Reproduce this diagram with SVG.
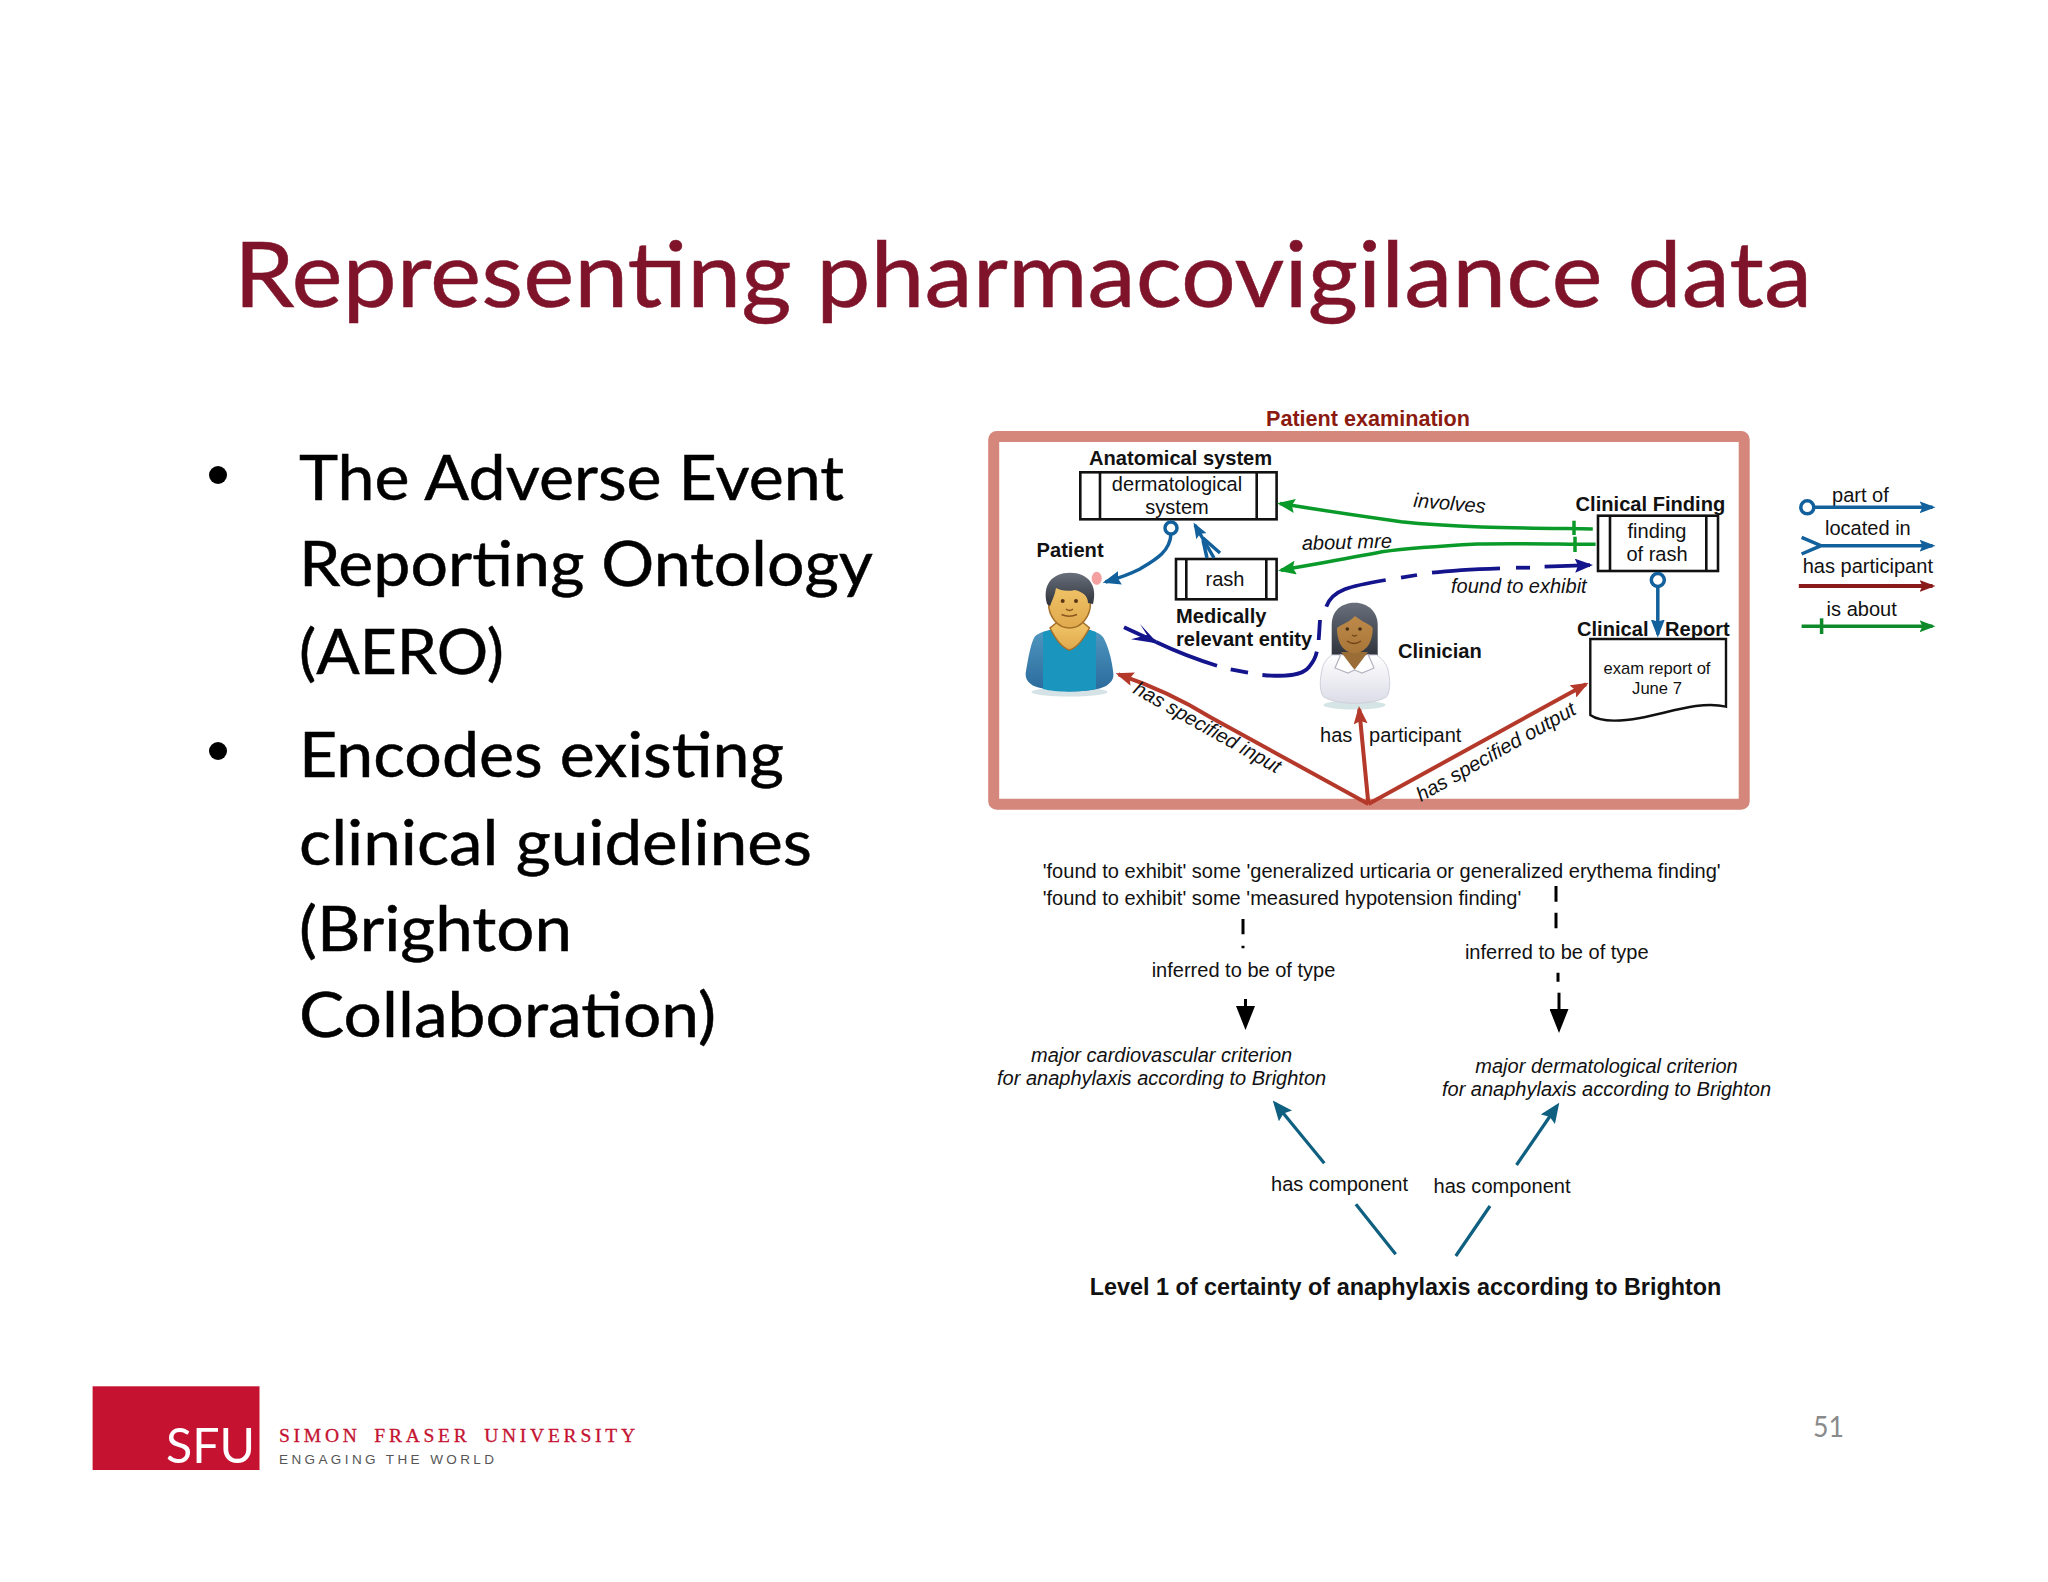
<svg xmlns="http://www.w3.org/2000/svg" width="2048" height="1582" viewBox="0 0 2048 1582">
<style>
text{font-family:"Liberation Sans",Arial,sans-serif;fill:#111}
.t20{font-size:20.05px}
.b{font-size:20.1px;font-weight:bold}
.i{font-size:20px;font-style:italic}
.m{text-anchor:middle}
.slide{font-family:Lato,"Open Sans",sans-serif;font-size:62px;fill:#000;stroke:#000;stroke-width:.5}
.box{fill:#fff;stroke:#111;stroke-width:2.6}
.sep{stroke:#111;stroke-width:2.6;fill:none}
.c{fill:none;stroke-linecap:butt}
.green{stroke:#0a9a2a;stroke-width:3.5}
.navy{stroke:#14148c;stroke-width:3.8}
.blue{stroke:#12609c;stroke-width:3.5}
.red{stroke:#b5392a;stroke-width:4}
.dred{stroke:#8b1a1a;stroke-width:4}
.dgreen{stroke:#0f8a2a;stroke-width:3.5}
.black{stroke:#000;stroke-width:3}
.teal{stroke:#0e5f80;stroke-width:3.2}
</style>
<defs>
<marker id="mGreen" markerUnits="userSpaceOnUse" markerWidth="18" markerHeight="14" viewBox="0 0 18 14" refX="15" refY="7" orient="auto"><path d="M0 0L18 7L0 14L3 7Z" fill="#0a9a2a"/></marker>
<marker id="mDGreen" markerUnits="userSpaceOnUse" markerWidth="16" markerHeight="12" viewBox="0 0 16 12" refX="13" refY="6" orient="auto"><path d="M0 0L16 6L0 12L3 6Z" fill="#0f8a2a"/></marker>
<marker id="mNavy" markerUnits="userSpaceOnUse" markerWidth="18" markerHeight="14" viewBox="0 0 18 14" refX="15" refY="7" orient="auto"><path d="M0 0L18 7L0 14L3 7Z" fill="#14148c"/></marker>
<marker id="mBlue" markerUnits="userSpaceOnUse" markerWidth="16" markerHeight="12" viewBox="0 0 16 12" refX="13" refY="6" orient="auto"><path d="M0 0L16 6L0 12L3 6Z" fill="#12609c"/></marker>
<marker id="mBlueBig" markerUnits="userSpaceOnUse" markerWidth="18" markerHeight="14" viewBox="0 0 18 14" refX="15" refY="7" orient="auto"><path d="M0 0L18 7L0 14L2 7Z" fill="#12609c"/></marker>
<marker id="mRed" markerUnits="userSpaceOnUse" markerWidth="18" markerHeight="14" viewBox="0 0 18 14" refX="15" refY="7" orient="auto"><path d="M0 0L18 7L0 14L3 7Z" fill="#b5392a"/></marker>
<marker id="mDRed" markerUnits="userSpaceOnUse" markerWidth="16" markerHeight="12" viewBox="0 0 16 12" refX="13" refY="6" orient="auto"><path d="M0 0L16 6L0 12L3 6Z" fill="#8b1a1a"/></marker>
<marker id="mBlack" markerUnits="userSpaceOnUse" markerWidth="24" markerHeight="19" viewBox="0 0 24 19" refX="3" refY="9.5" orient="auto"><path d="M0 0L24 9.5L0 19Z" fill="#000"/></marker>
<marker id="mTeal" markerUnits="userSpaceOnUse" markerWidth="20" markerHeight="17" viewBox="0 0 20 17" refX="16" refY="8.5" orient="auto"><path d="M0 0L20 8.5L0 17L3 8.5Z" fill="#0e5f80"/></marker>
<linearGradient id="hair" x1="0" y1="0" x2="0" y2="1"><stop offset="0" stop-color="#69707c"/><stop offset="1" stop-color="#2e323a"/></linearGradient>
<linearGradient id="skin" x1="0" y1="0" x2="0" y2="1"><stop offset="0" stop-color="#f3c86c"/><stop offset="1" stop-color="#dfa94c"/></linearGradient>
<linearGradient id="skin2" x1="0" y1="0" x2="0" y2="1"><stop offset="0" stop-color="#bd8a4a"/><stop offset="1" stop-color="#a87638"/></linearGradient>
<linearGradient id="sleeve" x1="0" y1="0" x2="0" y2="1"><stop offset="0" stop-color="#4f97c0"/><stop offset="1" stop-color="#2a6a9c"/></linearGradient>
<linearGradient id="coat" x1="0" y1="0" x2="0" y2="1"><stop offset="0" stop-color="#ffffff"/><stop offset="1" stop-color="#dcdce8"/></linearGradient>
</defs>
<rect width="2048" height="1582" fill="#fff"/>
<g id="slide-title"><text x="234" y="306.7" textLength="1578" lengthAdjust="spacingAndGlyphs" style="font-family:Lato,'Open Sans',sans-serif;font-size:91px;fill:#7e1329;stroke:#7e1329;stroke-width:.5">Representing pharmacovigilance data</text></g>
<g id="bullets">
<circle cx="218" cy="475" r="9" fill="#000"/>
<circle cx="218" cy="751" r="9" fill="#000"/>
<text class="slide" x="299" y="500" textLength="545" lengthAdjust="spacingAndGlyphs">The Adverse Event</text>
<text class="slide" x="299" y="585.5" textLength="574" lengthAdjust="spacingAndGlyphs">Reporting Ontology</text>
<text class="slide" x="299" y="674" textLength="205" lengthAdjust="spacingAndGlyphs">(AERO)</text>
<text class="slide" x="299" y="777" textLength="485" lengthAdjust="spacingAndGlyphs">Encodes existing</text>
<text class="slide" x="299" y="865" textLength="513" lengthAdjust="spacingAndGlyphs">clinical guidelines</text>
<text class="slide" x="299" y="951" textLength="273" lengthAdjust="spacingAndGlyphs">(Brighton</text>
<text class="slide" x="299" y="1037" textLength="417" lengthAdjust="spacingAndGlyphs">Collaboration)</text>
</g>
<g id="frame">
<rect x="993.7" y="436.5" width="750.5" height="367.8" rx="3" fill="#fff" stroke="#d6877b" stroke-width="11"/>
<text x="1266" y="426" style="font-size:21.6px;font-weight:bold;fill:#8b1a10">Patient examination</text>
</g>
<g id="anatomical-system">
<text class="b" x="1089" y="465">Anatomical system</text>
<rect class="box" x="1080.3" y="472.3" width="196.3" height="47"/>
<path class="sep" d="M1100 472.3V519.3M1256.7 472.3V519.3"/>
<text class="t20 m" x="1177" y="490.5">dermatological</text>
<text class="t20 m" x="1177" y="513.5">system</text>
</g>
<g id="rash">
<rect class="box" x="1176" y="559" width="100.6" height="40.3"/>
<path class="sep" d="M1186.3 559V599.3M1266.3 559V599.3"/>
<text class="t20 m" x="1225" y="586">rash</text>
<text class="b" x="1176" y="622.7">Medically</text>
<text class="b" x="1176" y="646">relevant entity</text>
</g>
<g id="patient">
<text class="b" x="1036.6" y="557.2">Patient</text>
<ellipse cx="1069.5" cy="692" rx="38" ry="4.5" fill="#d5e2e6"/>
<path d="M1050 630C1042 632 1036 634 1034 638C1030 646 1028 660 1025.7 673C1025 680 1030 684 1034 686C1050 692 1090 694 1106 686C1112 682 1114 678 1113.3 673C1112 660 1108 645 1103 637C1100 633 1095 632 1090 630Z" fill="url(#sleeve)"/>
<path d="M1050 630H1090L1096 632V689C1080 692.5 1056 692.5 1043 689V632Z" fill="#1a95bd"/>
<path d="M1050 628C1056 640 1062 648 1069.5 650C1077 648 1083 640 1089.5 628L1080 620H1060Z" fill="url(#skin)" stroke="#a4702a" stroke-width="1.5"/>
<ellipse cx="1069.5" cy="603" rx="21" ry="25" fill="url(#skin)" stroke="#a4702a" stroke-width="1.5"/>
<path d="M1047 604C1042 585 1052 572.7 1070 572.7C1088 572.7 1098 585 1093 604L1088 603C1088 595 1082 592 1075 590C1066 592 1060 590 1056 588C1055 595 1052 600 1050 606Z" fill="url(#hair)"/>
<circle cx="1062.7" cy="601" r="2" fill="#5a3518"/><circle cx="1076" cy="601" r="2" fill="#5a3518"/>
<path d="M1066 609Q1069.5 612 1073 609M1061.5 614.5Q1069 618 1077 614.5" fill="none" stroke="#8a5520" stroke-width="1.4"/>
<ellipse cx="1096.7" cy="578.3" rx="5" ry="6.5" fill="#f4a0a0"/>
</g>
<g id="clinician">
<text class="b" x="1398" y="658">Clinician</text>
<ellipse cx="1354.5" cy="705" rx="31" ry="4.5" fill="#d5e4e4"/>
<path d="M1331.7 657V625C1331.7 610 1342 602.7 1355 602.7C1368 602.7 1377.7 612 1377.7 625V657Z" fill="url(#hair)"/>
<path d="M1331.7 655C1326 659 1323 664 1322 670C1320 678 1319 690 1323.3 696.7C1332 702 1345 703.3 1355 703.3C1365 703.3 1378 702 1386.7 696.7C1391 690 1390 678 1388 670C1387 664 1382 659 1376.7 655Z" fill="url(#coat)" stroke="#d0d0dc" stroke-width="1"/>
<path d="M1341 652L1354.5 670L1368 652Z" fill="#9a6c36"/>
<path d="M1341 654L1335 668L1348 673L1354.5 670M1368 654L1374 668L1362 673L1354.5 670" fill="#fff" stroke="#b4b4c0" stroke-width="1.2"/>
<path d="M1337 628C1337 645 1345 653 1354.5 653C1364 653 1372.7 645 1372.7 628C1370 624 1362 622 1355 616C1350 622 1342 624 1337 628Z" fill="url(#skin2)"/>
<circle cx="1347.3" cy="629" r="1.8" fill="#4a2c12"/><circle cx="1360" cy="629" r="1.8" fill="#4a2c12"/>
<path d="M1352 635Q1354.5 637 1357 635M1347 641Q1354 646 1361 641" fill="none" stroke="#6e4418" stroke-width="1.3"/>
</g>
<g id="clinical-finding">
<text class="b" x="1575.6" y="510.5">Clinical Finding</text>
<rect class="box" x="1598" y="515.7" width="120" height="55.3"/>
<path class="sep" d="M1610 515.7V571M1706.3 515.7V571"/>
<text class="t20 m" x="1657" y="537.5">finding</text>
<text class="t20 m" x="1657" y="561">of rash</text>
</g>
<g id="clinical-report">
<text class="b" x="1577" y="636">Clinical<tspan x="1665">Report</tspan></text>
<path d="M1590.3 639H1726V706.7C1700 700 1665 714 1640 718C1620 721.5 1600 722 1590.3 715Z" fill="#fff" stroke="#111" stroke-width="2.4"/>
<text class="m" x="1657" y="673.5" style="font-size:16.6px">exam report of</text>
<text class="m" x="1657" y="693.5" style="font-size:16.6px">June 7</text>
</g>
<g id="connectors">
<path class="c green" marker-end="url(#mGreen)" d="M1592.8 529C1530 528 1460 528 1401 521.7C1360 516 1320 510 1280 503.6"/>
<path class="c green" d="M1574 520.7V535"/>
<path class="c green" marker-end="url(#mGreen)" d="M1595.6 544.3C1550 544 1510 543 1477.5 544C1440 546 1410 548 1382 551.7C1350 558 1315 564 1281 570.2"/>
<path class="c green" d="M1575 536.7V552"/>
<g class="c navy">
<path d="M1124 627.3L1156 642"/>
<path d="M1156 642C1175 651 1195 659 1217 665.7"/>
<path d="M1230.7 669.3L1248 672.7"/>
<path d="M1262.4 675C1285 677 1302 676 1309 667C1315 660 1316 656 1316.8 651.7"/>
<path d="M1318.7 640L1320 620"/>
<path d="M1326.3 606.7C1332 590 1350 586 1385.7 580"/>
<path d="M1401 577.7L1417 575"/>
<path d="M1432 572.7C1455 570 1480 569 1500 568.3"/>
<path d="M1516 567.7H1530"/>
<path marker-end="url(#mNavy)" d="M1544.6 566.7L1590 565.2"/>
</g>
<path d="M1140 624L1147 635L1131 639.3L1158 643.5Z" fill="#14148c"/>
<circle cx="1171" cy="528" r="6" fill="#fff" stroke="#12609c" stroke-width="3.5"/>
<path class="c blue" marker-end="url(#mBlueBig)" d="M1171 534C1170 552 1155 560 1140 569C1128 575 1116 579 1105.5 582"/>
<path class="c blue" marker-end="url(#mBlue)" d="M1214 558L1195 525"/>
<path class="c blue" d="M1207 558L1203 540M1220 553L1203 538"/>
<circle cx="1657.8" cy="580" r="6.5" fill="#fff" stroke="#12609c" stroke-width="3.5"/>
<path class="c blue" marker-end="url(#mBlueBig)" d="M1657.8 586.5V634.5"/>
<path class="c red" marker-end="url(#mRed)" d="M1368.4 804L1210 717C1178 697 1150 685 1118.5 674.3"/>
<path class="c red" marker-end="url(#mRed)" d="M1368.4 804L1359.2 709"/>
<path class="c red" marker-end="url(#mRed)" d="M1368.4 804L1586 684.2"/>
<path class="c black" d="M1556 886V901.7M1556 912.7V928.3M1558 972.7V981.7"/>
<path class="c black" marker-end="url(#mBlack)" d="M1559 992.7V1012"/>
<path class="c black" d="M1243 919V934.3M1243 945.7V948.3"/>
<path class="c black" marker-end="url(#mBlack)" d="M1245.5 999V1009"/>
<path class="c teal" marker-end="url(#mTeal)" d="M1324.3 1163.3L1275.3 1103.5"/>
<path class="c teal" marker-end="url(#mTeal)" d="M1516.5 1165L1557 1106"/>
<path class="c teal" d="M1355.9 1204.3L1395.7 1254.3M1490 1206L1455.8 1256"/>
</g>
<g id="edge-labels">
<text class="i m" transform="translate(1449 510) rotate(5)">involves</text>
<text class="i" transform="translate(1302 550) rotate(-1.5)">about mre</text>
<text class="i" x="1451" y="592.5">found to exhibit</text>
<text class="i" transform="translate(1132 692.5) rotate(29.4)" style="font-size:20px">has specified input</text>
<text class="i" transform="translate(1421 802) rotate(-29.5)" style="font-size:20.2px">has specified output</text>
<text class="t20" x="1320" y="742.2">has</text>
<text class="t20" x="1369" y="742.2">participant</text>
</g>
<g id="legend">
<text class="t20" x="1832" y="501.5">part of</text>
<circle cx="1807.3" cy="507.3" r="6.5" fill="#fff" stroke="#12609c" stroke-width="3.5"/>
<path class="c blue" marker-end="url(#mBlue)" d="M1814 507.3H1932.5"/>
<text class="t20" x="1825" y="535">located in</text>
<path class="c blue" marker-end="url(#mBlue)" d="M1801.6 537.3L1821 545.7L1801.6 554M1821 545.7H1932.5"/>
<text class="t20" x="1802.7" y="573.2">has participant</text>
<path class="c dred" marker-end="url(#mDRed)" d="M1798.8 586H1932.5"/>
<text class="t20" x="1826.6" y="615.5">is about</text>
<path class="c dgreen" marker-end="url(#mDGreen)" d="M1801.6 626.3H1932.5"/>
<path class="c dgreen" d="M1821.6 618.3V634"/>
</g>
<g id="inference">
<text class="t20" x="1042.7" y="878" textLength="678">'found to exhibit' some 'generalized urticaria or generalized erythema finding'</text>
<text class="t20" x="1042.7" y="905">'found to exhibit' some 'measured hypotension finding'</text>
<text class="t20 m" x="1243.5" y="977">inferred to be of type</text>
<text class="t20 m" x="1556.8" y="959">inferred to be of type</text>
<text class="i m" x="1161.6" y="1062">major cardiovascular criterion</text>
<text class="i m" x="1161.6" y="1085.2">for anaphylaxis according to Brighton</text>
<text class="i m" x="1606.5" y="1072.5">major dermatological criterion</text>
<text class="i m" x="1606.5" y="1096">for anaphylaxis according to Brighton</text>
<text class="t20" x="1271" y="1191.2">has component</text>
<text class="t20" x="1433.5" y="1193">has component</text>
<text x="1089.7" y="1295" style="font-size:23.4px;font-weight:bold">Level 1 of certainty of anaphylaxis according to Brighton</text>
</g>
<g id="footer">
<rect x="92.6" y="1386.3" width="166.9" height="83.7" fill="#c41230"/>
<text x="166" y="1463" textLength="89" lengthAdjust="spacingAndGlyphs" style="font-family:Lato,sans-serif;font-size:49px;fill:#fff">SFU</text>
<text x="279" y="1441.7" textLength="356" style="font-family:'Liberation Serif',serif;font-size:19.5px;fill:#c41230;word-spacing:5px;stroke:#c41230;stroke-width:.3">SIMON FRASER UNIVERSITY</text>
<text x="279" y="1464" textLength="215" style="font-size:13.5px;fill:#555">ENGAGING THE WORLD</text>
<text x="1813" y="1436.6" textLength="31" lengthAdjust="spacingAndGlyphs" style="font-family:Lato,sans-serif;font-size:28px;fill:#8a8a8a">51</text>
</g>
</svg>
